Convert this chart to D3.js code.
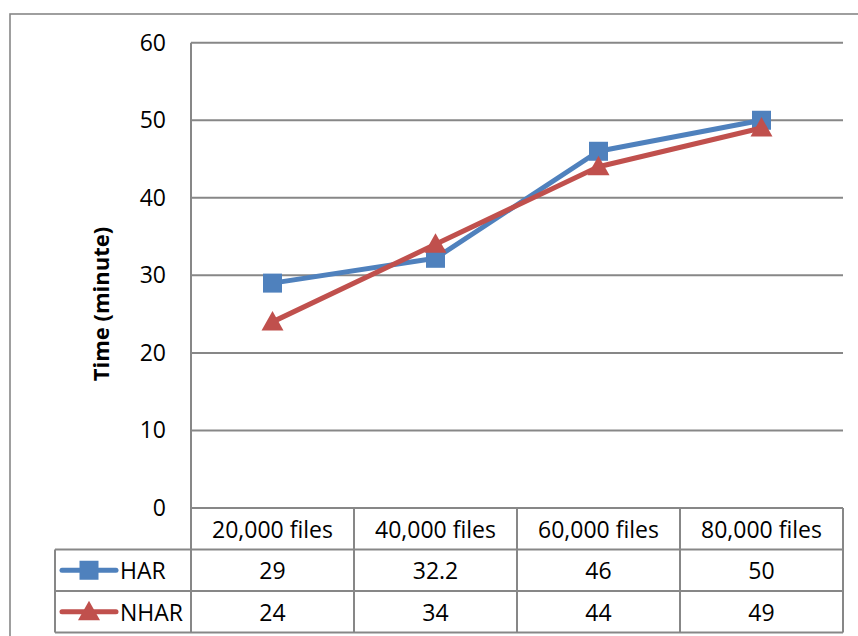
<!DOCTYPE html>
<html>
<head>
<meta charset="utf-8">
<script src="https://cdn.jsdelivr.net/npm/d3@7"></script>
<style>
  html, body { margin: 0; padding: 0; background: #fff; }
  svg { display: block; }
  text { font-family: "Open Sans", "DejaVu Sans", sans-serif; fill: #000; }
</style>
</head>
<body>
<svg id="chart" width="858" height="636"></svg>
<script>
// Processing time for each workload
const categories = ["20,000 files", "40,000 files", "60,000 files", "80,000 files"];
const seriesNames = ["HAR", "NHAR"];
const harValues = [29, 32.2, 46, 50];
const nharValues = [24, 34, 44, 49];
const yTicks = [0, 10, 20, 30, 40, 50, 60];
const yTitle = "Time (minute)";

const series = [
  { name: seriesNames[0], values: harValues, color: "#4F81BD", marker: "square" },
  { name: seriesNames[1], values: nharValues, color: "#C0504D", marker: "triangle" }
];

const svg = d3.select("#chart");
const gridColor = "#878787";
const fontSize = 23;

const plot = { left: 191, right: 843, top: 42.7, bottom: 508 };
const rowH = 41.5;
const legendLeft = 55;

const x = d3.scaleBand().domain(categories).range([plot.left, plot.right]);
const y = d3.scaleLinear().domain([0, 60]).range([plot.bottom, plot.top]);

// outer chart frame
svg.append("rect")
  .attr("x", 10).attr("y", 14)
  .attr("width", 900).attr("height", 700)
  .attr("fill", "none").attr("stroke", gridColor).attr("stroke-width", 1.6);

// horizontal gridlines and value axis
const yAxis = d3.axisLeft(y).tickValues(yTicks).tickSize(0).tickPadding(25).tickFormat(d3.format("d"));
const gy = svg.append("g").attr("transform", `translate(${plot.left},0)`).call(yAxis);
gy.select(".domain").remove();
gy.selectAll("text").style("font-size", fontSize + "px").attr("font-family", null);

svg.append("g").selectAll("line").data(yTicks).join("line")
  .attr("x1", plot.left).attr("x2", plot.right)
  .attr("y1", d => y(d)).attr("y2", d => y(d))
  .attr("stroke", gridColor).attr("stroke-width", 2);

// vertical axis line reaching down through the data table
svg.append("line")
  .attr("x1", plot.left).attr("x2", plot.left)
  .attr("y1", plot.top).attr("y2", plot.bottom + rowH * 3)
  .attr("stroke", gridColor).attr("stroke-width", 2);

// axis title
svg.append("text")
  .attr("transform", `translate(100,304) rotate(-90)`)
  .attr("text-anchor", "middle").attr("dominant-baseline", "central")
  .style("font-size", "22px").style("font-weight", "bold")
  .text(yTitle);

// data table grid
const table = svg.append("g");
const tableBottom = plot.bottom + rowH * 3;
// row separators
[1, 2].forEach(i => {
  table.append("line")
    .attr("x1", legendLeft).attr("x2", plot.right)
    .attr("y1", plot.bottom + rowH * i).attr("y2", plot.bottom + rowH * i)
    .attr("stroke", gridColor).attr("stroke-width", 2);
});
table.append("line")
  .attr("x1", legendLeft).attr("x2", plot.right)
  .attr("y1", tableBottom).attr("y2", tableBottom)
  .attr("stroke", gridColor).attr("stroke-width", 2);
table.append("line")
  .attr("x1", legendLeft).attr("x2", legendLeft)
  .attr("y1", plot.bottom + rowH).attr("y2", tableBottom)
  .attr("stroke", gridColor).attr("stroke-width", 2);
// column separators
table.selectAll("line.col").data(categories.slice(1).concat(["__end"])).join("line")
  .attr("class", "col")
  .attr("x1", (d, i) => plot.left + x.bandwidth() * (i + 1))
  .attr("x2", (d, i) => plot.left + x.bandwidth() * (i + 1))
  .attr("y1", plot.bottom).attr("y2", tableBottom)
  .attr("stroke", gridColor).attr("stroke-width", 2);

// category header cells
table.selectAll("text.cat").data(categories).join("text")
  .attr("class", "cat")
  .attr("x", d => x(d) + x.bandwidth() / 2)
  .attr("y", plot.bottom + rowH / 2)
  .attr("text-anchor", "middle").attr("dominant-baseline", "central")
  .style("font-size", fontSize + "px")
  .text(d => d);

// marker shapes
function drawMarker(g, kind, cx, cy, color) {
  if (kind === "square") {
    g.append("rect")
      .attr("x", cx - 9.5).attr("y", cy - 9.5)
      .attr("width", 19).attr("height", 19)
      .attr("fill", color);
  } else {
    g.append("path")
      .attr("d", `M${cx},${cy - 11} L${cx + 11},${cy + 8.5} L${cx - 11},${cy + 8.5} Z`)
      .attr("fill", color);
  }
}

// value rows with legend keys
series.forEach((s, si) => {
  const rowY = plot.bottom + rowH * (si + 1.5);
  const key = table.append("g");
  key.append("line")
    .attr("x1", 62).attr("x2", 116)
    .attr("y1", rowY).attr("y2", rowY)
    .attr("stroke", s.color).attr("stroke-width", 5).attr("stroke-linecap", "round");
  drawMarker(key, s.marker, 89, rowY, s.color);
  table.append("text")
    .attr("x", 120).attr("y", rowY)
    .attr("dominant-baseline", "central")
    .style("font-size", fontSize + "px")
    .text(s.name);
  table.selectAll(null).data(s.values).join("text")
    .attr("x", (d, i) => x(categories[i]) + x.bandwidth() / 2)
    .attr("y", rowY)
    .attr("text-anchor", "middle").attr("dominant-baseline", "central")
    .style("font-size", fontSize + "px")
    .text(d => d);
});

// series lines and markers
const line = d3.line()
  .x((d, i) => x(categories[i]) + x.bandwidth() / 2)
  .y(d => y(d));

series.forEach(s => {
  const g = svg.append("g");
  g.append("path")
    .attr("d", line(s.values))
    .attr("fill", "none").attr("stroke", s.color)
    .attr("stroke-width", 5).attr("stroke-linejoin", "round").attr("stroke-linecap", "round");
  s.values.forEach((v, i) => {
    drawMarker(g, s.marker, x(categories[i]) + x.bandwidth() / 2, y(v), s.color);
  });
});
</script>
</body>
</html>
